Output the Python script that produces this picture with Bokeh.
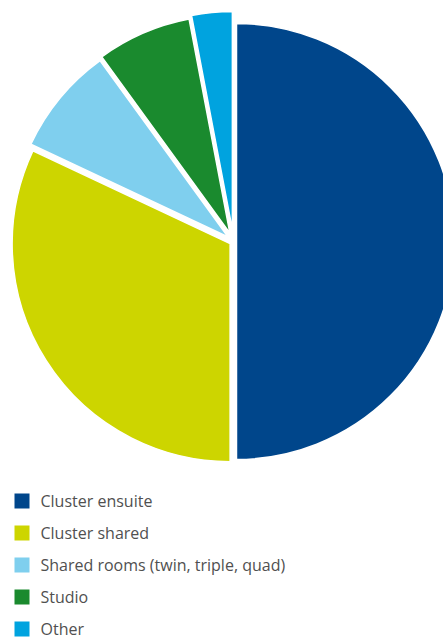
import math
from bokeh.plotting import figure
from bokeh.models import Range1d, ColumnDataSource
from bokeh.core.properties import value
from bokeh.embed import file_html
from bokeh.resources import INLINE

# ---- data ----
categories = ["Cluster ensuite", "Cluster shared", "Shared rooms (twin, triple, quad)", "Studio", "Other"]
shares = [50, 32, 8, 7, 3]
colors = ["#00468b", "#cdd500", "#7fcfee", "#1a8a2e", "#00a3df"]

# ---- layout / style ----
W, H = 443, 638
CX, CY_SCREEN, R = 233, 241, 218
explode = [3, 4, 7, 9, 12]
legend_x, legend_y0, legend_dy, sq = 21.5, 500.5, 32, 15

p = figure(width=W, height=H, output_backend="svg", toolbar_location=None,
           x_range=Range1d(0, W), y_range=Range1d(0, H), min_border=0,
           outline_line_color=None)
p.axis.visible = False
p.grid.visible = False
p.background_fill_color = "white"
p.border_fill_color = "white"

total = float(sum(shares))
xs, ys, starts, ends = [], [], [], []
cum = 0.0
for i, v in enumerate(shares):
    th0 = cum / total * 360.0          # clockwise from top
    th1 = (cum + v) / total * 360.0
    cum += v
    thm = (th0 + th1) / 2.0
    phi = math.radians(90 - thm)
    xs.append(CX + explode[i] * math.cos(phi))
    ys.append((H - CY_SCREEN) + explode[i] * math.sin(phi))
    starts.append(math.radians(90 - th1))
    ends.append(math.radians(90 - th0))

src = ColumnDataSource(dict(x=xs, y=ys, start=starts, end=ends, color=colors))
p.wedge(x="x", y="y", radius=R, start_angle="start", end_angle="end",
        direction="anticlock", fill_color="color", line_color="white",
        line_width=1.5, source=src)

# legend
n = len(categories)
ly = [H - (legend_y0 + i * legend_dy) for i in range(n)]
lty = [y + 0.5 for y in ly]
lsrc = ColumnDataSource(dict(x=[legend_x] * n, y=ly, ty=lty,
                             tx=[legend_x + 18.5] * n,
                             label=categories, color=colors))
p.rect(x="x", y="y", width=sq, height=sq, fill_color="color", line_color=None, source=lsrc)
p.text(x="tx", y="ty", text="label", text_font=value("Open Sans"), text_font_size="16px",
       text_color="#505050", text_baseline="middle", text_align="left", source=lsrc)

open("out.html", "w").write(file_html(p, INLINE))
